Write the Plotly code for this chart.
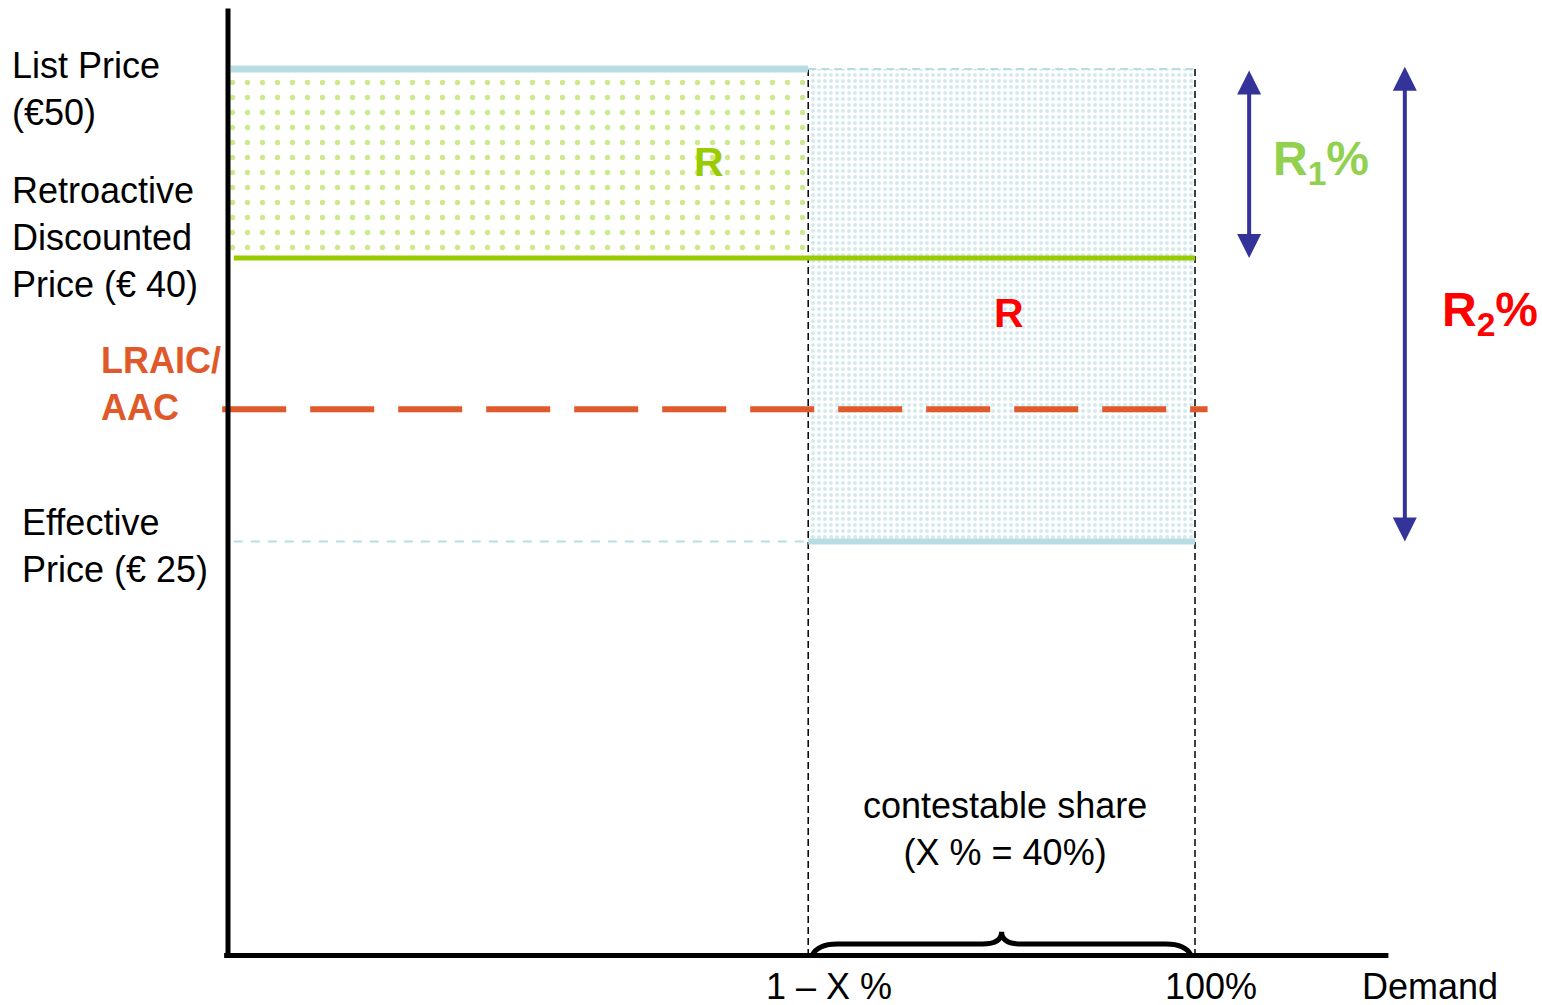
import plotly.graph_objects as go

# ---- data (prices in €, demand as share of total) ----
list_price = 50
retro_price = 40
lraic_price = 32
effective_price = 25
contestable_start = 0.6   # 1 - X%
full_demand = 1.0         # 100%
axis_floor = 3.1
axis_top = 53.2
axis_x_end = 1.2
r1_x = 1.056
r2_x = 1.217

LIGHT_BLUE = "#b7dde3"
GREEN = "#99cc00"
ORANGE = "#e0592a"
NAVY = "#333399"
FONT = "Arial, Liberation Sans, sans-serif"

W, H = 1542, 1005
def xp(px):
    return px / W
def yp(py):
    return 1 - py / H

fig = go.Figure()

# pattern fills
fig.add_trace(go.Scatter(
    x=[contestable_start, full_demand, full_demand, contestable_start, contestable_start],
    y=[effective_price, effective_price, list_price, list_price, effective_price],
    fill="toself", mode="none", fillcolor="white",
    fillpattern=dict(shape=".", fgcolor="#a6d6de", bgcolor="white", size=6, solidity=0.35),
    hoverinfo="skip", showlegend=False))
fig.add_trace(go.Scatter(
    x=[0, contestable_start, contestable_start, 0, 0],
    y=[retro_price, retro_price, list_price, list_price, retro_price],
    fill="toself", mode="none", fillcolor="white",
    fillpattern=dict(shape=".", fgcolor="#9fd11a", bgcolor="white", size=15, solidity=0.1),
    hoverinfo="skip", showlegend=False))

def line(x, y, color, width, dash="solid"):
    fig.add_trace(go.Scatter(x=x, y=y, mode="lines",
                             line=dict(color=color, width=width, dash=dash),
                             hoverinfo="skip", showlegend=False))

# vertical dashed guides
line([contestable_start, contestable_start], [list_price, axis_floor], "black", 1.5, "7px,4px")
line([full_demand, full_demand], [list_price, axis_floor], "black", 1.5, "7px,4px")

# list price
line([0.003, contestable_start], [list_price, list_price], LIGHT_BLUE, 7)
line([contestable_start, full_demand], [list_price, list_price], LIGHT_BLUE, 2, "8px,5px")
# retroactive discounted price
line([0.006, full_demand], [retro_price, retro_price], GREEN, 5)
# effective price
line([0.006, contestable_start], [effective_price, effective_price], LIGHT_BLUE, 2, "9px,8px")
line([contestable_start, full_demand], [effective_price, effective_price], LIGHT_BLUE, 6)
# LRAIC / AAC
line([-0.006, 1.013], [lraic_price, lraic_price], ORANGE, 6, "64px,24px")

# axes
line([0, 0], [axis_top, axis_floor], "black", 5)
line([-0.004, axis_x_end], [axis_floor, axis_floor], "black", 5)

# curly brace over the contestable share
x0, x1 = contestable_start, full_demand
mid = (x0 + x1) / 2
h = axis_floor + 0.6
tip = axis_floor + 1.25
d = 0.02
brace = (f"M {x0+0.004},{axis_floor} Q {x0+0.01},{h} {x0+d+0.01},{h} "
         f"L {mid-d},{h} Q {mid},{h} {mid},{tip} Q {mid},{h} {mid+d},{h} "
         f"L {x1-d-0.01},{h} Q {x1-0.01},{h} {x1-0.004},{axis_floor}")
fig.add_shape(type="path", path=brace, xref="x", yref="y",
              line=dict(color="black", width=5))

# arrows R1 and R2
for (xa, ytop, ybot) in [(r1_x, list_price, retro_price), (r2_x, list_price + 0.2, effective_price)]:
    fig.add_annotation(x=xa, y=ybot, ax=xa, ay=ytop, xref="x", yref="y", axref="x", ayref="y",
                       text="", showarrow=True, arrowhead=2, arrowside="end+start",
                       arrowsize=1.2, arrowwidth=4, arrowcolor=NAVY, standoff=0, startstandoff=0)

def label(text, x, y, size=36, color="black", xanchor="left", align="left"):
    fig.add_annotation(text=text, x=xp(x), y=yp(y), xref="paper", yref="paper",
                       showarrow=False, xanchor=xanchor, yanchor="middle", align=align,
                       font=dict(family=FONT, size=size, color=color))

label(f"List Price<br>(€{list_price})", 10, 89)
label(f"Retroactive<br>Discounted<br>Price (€ {retro_price})", 10, 237)
label("<b>LRAIC/<br>AAC</b>", 99, 384, color=ORANGE)
label(f"Effective<br>Price (€ {effective_price})", 20, 546)
label(f"contestable share<br>(X % = {int((full_demand-contestable_start)*100)}%)", 1005, 829,
      xanchor="center", align="center")
label("1 – X %", 829, 986, xanchor="center")
label("100%", 1211, 986, xanchor="center")
label("Demand", 1430, 986, xanchor="center")
label("<b>R</b>", 709, 162, size=41, color=GREEN, xanchor="center")
label("<b>R</b>", 1009, 313, size=41, color="#ff0000", xanchor="center")
label("<b>R<sub>1</sub>%</b>", 1271, 162, size=48, color="#92d050")
label("<b>R<sub>2</sub>%</b>", 1440, 313, size=48, color="#ff0000")

fig.update_layout(
    width=W, height=H, margin=dict(l=0, r=0, t=0, b=0),
    plot_bgcolor="white", paper_bgcolor="white",
    xaxis=dict(range=[-228/967, (W-228)/967], visible=False, fixedrange=True),
    yaxis=dict(range=[50 - (H-69)/18.9, 50 + 69/18.9], visible=False, fixedrange=True),
    showlegend=False,
)
fig.write_html("out.html", config={"displayModeBar": False})
